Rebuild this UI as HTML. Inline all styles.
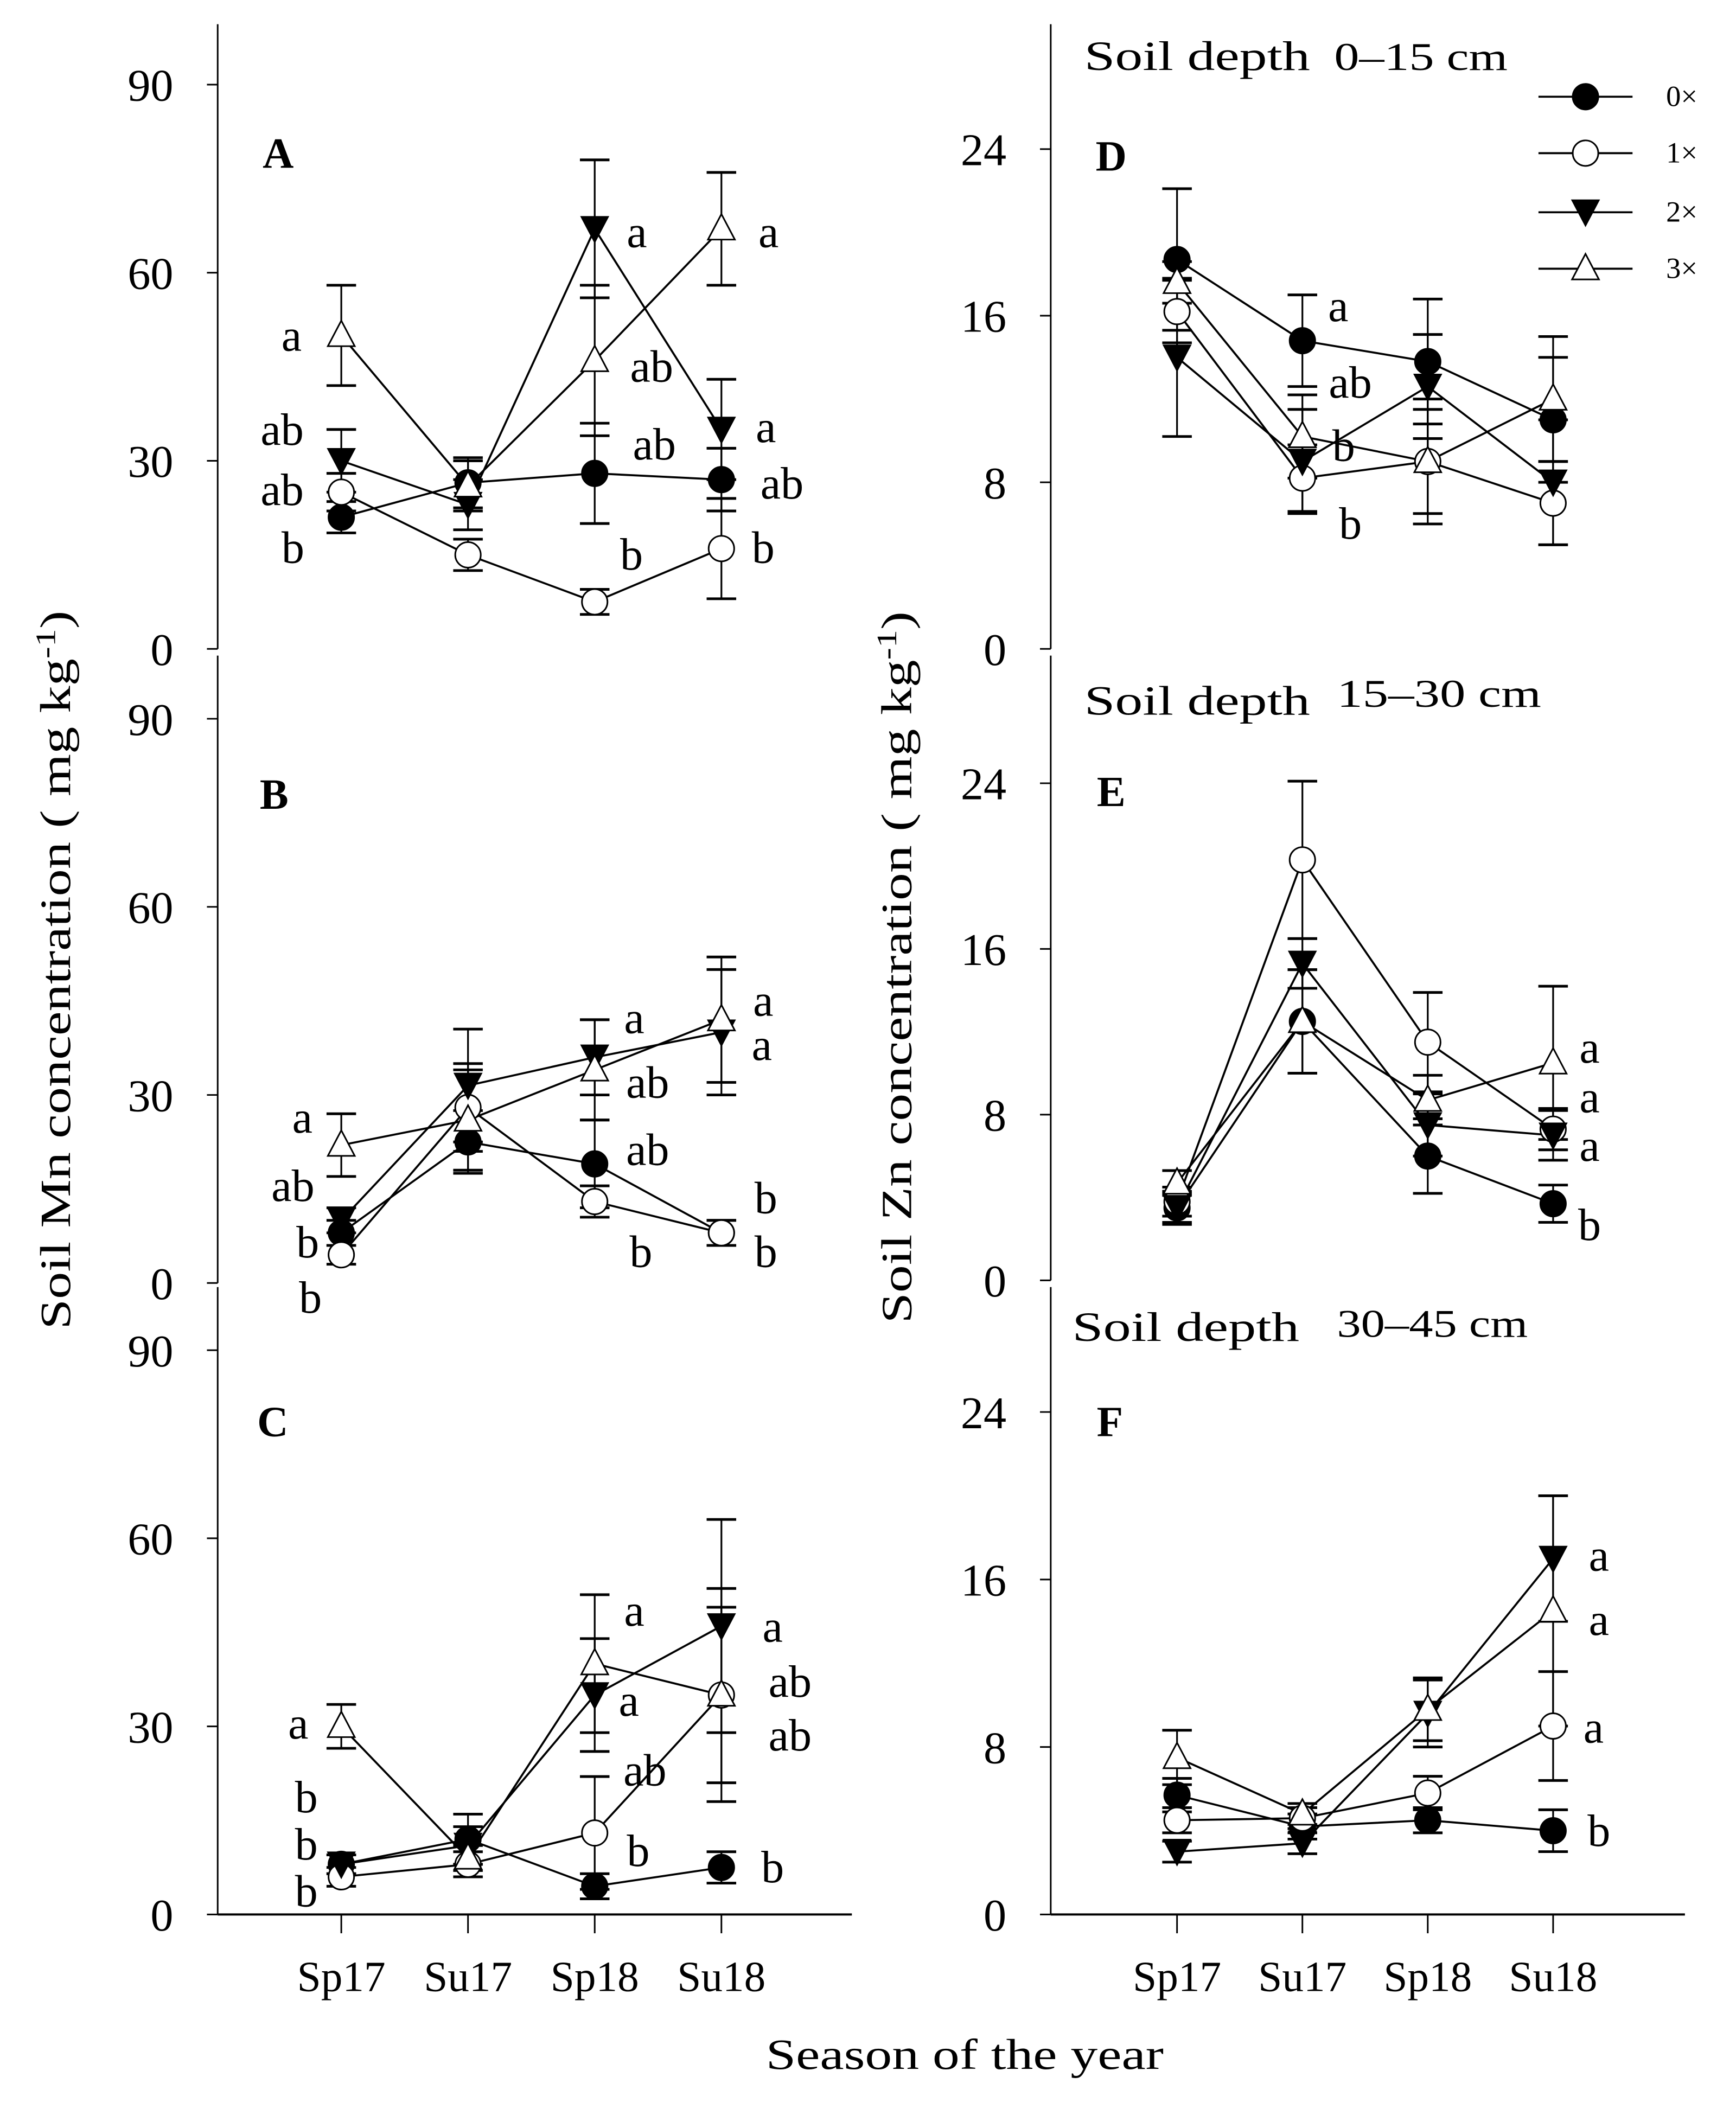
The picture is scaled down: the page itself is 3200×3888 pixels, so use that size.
<!DOCTYPE html>
<html><head><meta charset="utf-8"><style>
html,body{margin:0;padding:0;background:#fff}
svg{display:block}
text{font-family:"Liberation Serif",serif;fill:#000}
</style></head><body>
<svg id="chart" width="3200" height="3888" viewBox="0 0 1292 1569.8" xmlns="http://www.w3.org/2000/svg"></svg>
<script>
const seasons = ["Sp17","Su17","Sp18","Su18"];
const treatments = ["0×","1×","2×","3×"];
// Panel A Mn 0-15
const mnA0 = [21,26.5,28,27], mnA1 = [25,15,7.5,16], mnA2 = [30,23,67,35], mnA3 = [50,26,46,67];
const mnAe0 = [2.5,4,8,5], mnAe1 = [3,2.5,2,8], mnAe2 = [5,4,11,8], mnAe3 = [8,4,12,9];
// Panel B Mn 15-30
const mnB0 = [8,22.5,19,8], mnB1 = [4.5,28,13,8], mnB2 = [10,31.5,36,40], mnB3 = [22,26,34,42];
const mnBe0 = [2,5,7,2], mnBe1 = [1.5,7,2.5,2], mnBe2 = [2,9,6,10], mnBe3 = [5,8,8,10];
// Panel C Mn 30-45
const mnC0 = [8,12,4.5,7.5], mnC1 = [6,8,13,35], mnC2 = [8,11,35,46], mnC3 = [30,9,40,35];
const mnCe0 = [1.5,4,2,2.5], mnCe1 = [1.5,2,9,14], mnCe2 = [1.5,3,9,17], mnCe3 = [3.5,2,11,17];
// Panel D Zn 0-15
const znD0 = [18.7,14.8,13.8,11], znD1 = [16.2,8.2,9,7], znD2 = [14,9,12.6,8], znD3 = [17.6,10.2,9,12];
const znDe0 = [3.4,2.2,3,3], znDe1 = [1.5,1.6,3,2], znDe2 = [3.8,2.5,2.5,3], znDe3 = [1,2,2.5,3];
// Panel E Zn 15-30
const znE0 = [3.5,12.5,6,3.7], znE1 = [3.8,20.3,11.5,7.3], znE2 = [3.5,15.3,7.5,7], znE3 = [4.7,12.5,8.7,10.5];
const znEe0 = [0.8,2.5,1.8,0.9], znEe1 = [0.7,3.8,2.4,1], znEe2 = [0.7,1.2,1.5,1.2], znEe3 = [0.6,2.5,1.2,3.7];
// Panel F Zn 30-45
const znF0 = [5.7,4.2,4.5,4], znF1 = [4.5,4.6,5.8,9], znF2 = [3,3.4,9.6,17], znF3 = [7.5,4.8,9.8,14.5];
const znFe0 = [0.8,0.6,0.6,1], znFe1 = [0.6,0.5,0.8,2.6], znFe2 = [0.5,0.5,1.6,3], znFe3 = [1.3,0.5,1.5,5.5];
const mnTicks = [0,30,60,90];
const znTicks = [0,8,16,24];

const svg = document.getElementById('chart');
const NS = "http://www.w3.org/2000/svg";
function mk(tag, attrs, parent){const e=document.createElementNS(NS,tag);for(const k in attrs)e.setAttribute(k,attrs[k]);(parent||svg).appendChild(e);return e;}
function txt(s,x,y,size,parent,extra){const t=mk('text',Object.assign({x:x,y:y,'font-size':size},extra||{}),parent);t.textContent=s;return t;}

const panels = [
 {id:'A',ax:162,x0:254,dx:94.3,y0:483,top:18,bot:483,per:140/30,ticks:mnTicks,series:[mnA0,mnA1,mnA2,mnA3],errs:[mnAe0,mnAe1,mnAe2,mnAe3],
  letters:[["a",217,250],["ab",210,320],["ab",210,365],["b",218,408],["a",474,173],["ab",485,273],["ab",487,331],["b",470,413],["a",572,173],["a",570,318],["ab",582,360],["b",568,408]],lab:[207,113]},
 {id:'B',ax:162,x0:254,dx:94.3,y0:955,top:488,bot:955,per:140/30,ticks:mnTicks,series:[mnB0,mnB1,mnB2,mnB3],errs:[mnBe0,mnBe1,mnBe2,mnBe3],
  letters:[["a",225,832],["ab",218,883],["b",229,925],["b",231,966],["a",472,758],["ab",482,806],["ab",482,856],["b",477,932],["a",568,745],["a",567,778],["b",570,892],["b",570,932]],lab:[204,590]},
 {id:'C',ax:162,x0:254,dx:94.3,y0:1425,top:958,bot:1425,per:140/30,ticks:mnTicks,series:[mnC0,mnC1,mnC2,mnC3],errs:[mnCe0,mnCe1,mnCe2,mnCe3],xaxis:true,
  letters:[["a",222,1283],["b",228,1338],["b",228,1373],["b",228,1408],["a",472,1199],["a",468,1266],["ab",480,1318],["b",475,1378],["a",575,1211],["ab",588,1252],["ab",588,1292],["b",575,1390]],lab:[203,1057]},
 {id:'D',ax:782,x0:876,dx:93.3,y0:483,top:18,bot:483,per:372/24,ticks:znTicks,series:[znD0,znD1,znD2,znD3],errs:[znDe0,znDe1,znDe2,znDe3],
  letters:[["a",996,228],["ab",1005,285],["b",1000,332],["b",1005,390]],lab:[827,115],depth:[807,42,168,"0–15 cm",993,42,129]},
 {id:'E',ax:782,x0:876,dx:93.3,y0:953,top:488,bot:953,per:370/24,ticks:znTicks,series:[znE0,znE1,znE2,znE3],errs:[znEe0,znEe1,znEe2,znEe3],
  letters:[["a",1183,780],["a",1183,817],["a",1183,853],["b",1183,912]],lab:[827,588],depth:[807,522,168,"15–30 cm",995,516,152]},
 {id:'F',ax:782,x0:876,dx:93.3,y0:1425,top:958,bot:1425,per:374/24,ticks:znTicks,series:[znF0,znF1,znF2,znF3],errs:[znFe0,znFe1,znFe2,znFe3],xaxis:true,
  letters:[["a",1190,1158],["a",1190,1206],["a",1186,1286],["b",1190,1363]],lab:[826,1057],depth:[798,988,169,"30–45 cm",995,985,142]}
];

function marker(k,x,y,g){
  const r=9.5;
  if(k===0) return mk('circle',{cx:x,cy:y,r:r,fill:'#000',stroke:'#000','stroke-width':1.2},g);
  if(k===1) return mk('circle',{cx:x,cy:y,r:r,fill:'#fff',stroke:'#000','stroke-width':1.2},g);
  if(k===2) return mk('polygon',{points:`${x-10},${y-9} ${x+10},${y-9} ${x},${y+10}`,fill:'#000',stroke:'#000','stroke-width':1},g);
  return mk('polygon',{points:`${x-10},${y+8} ${x+10},${y+8} ${x},${y-11}`,fill:'#fff',stroke:'#000','stroke-width':1.2},g);
}

panels.forEach(p=>{
  const g=mk('g',{});
  
  
  const Y=v=>p.y0-v*p.per, X=i=>p.x0+i*p.dx;
  const ya=mk('line',{x1:p.ax,y1:p.top,x2:p.ax,y2:p.bot,stroke:'#000','stroke-width':1.2},g);
  
  
  p.ticks.forEach(t=>{
    mk('line',{x1:p.ax-8,y1:Y(t),x2:p.ax,y2:Y(t),stroke:'#000','stroke-width':1.2},g);
    const tl=txt(String(t),p.ax-33,Y(t)+12,34,g,{'text-anchor':'end'});
    
    
  });
  if(p.xaxis){
    const xa=mk('line',{x1:p.ax,y1:p.y0,x2:p.ax+472,y2:p.y0,stroke:'#000','stroke-width':1.6},g);
    
    
    seasons.forEach((s,i)=>{
      mk('line',{x1:X(i),y1:p.y0,x2:X(i),y2:p.y0+14,stroke:'#000','stroke-width':1.2},g);
      const xl=txt(s,X(i),p.y0+57,32,g,{'text-anchor':'middle'});
      
      
    });
  }
  p.series.forEach((ser,k)=>{
    ser.forEach((v,i)=>{
      const e=p.errs[k][i];
      mk('line',{x1:X(i),y1:Y(v-e),x2:X(i),y2:Y(v+e),stroke:'#000','stroke-width':1.3},g);
      [v-e,v+e].forEach(w=>mk('line',{x1:X(i)-11,y1:Y(w),x2:X(i)+11,y2:Y(w),stroke:'#000','stroke-width':2},g));
    });
  });
  p.series.forEach((ser,k)=>{
    const pl=mk('polyline',{points:ser.map((v,i)=>X(i)+','+Y(v)).join(' '),fill:'none',stroke:'#000','stroke-width':1.5},g);
    
    
  });
  p.series.forEach((ser,k)=>{
    ser.forEach((v,i)=>{
      const m=marker(k,X(i),Y(v),g);
      
      
    });
  });
  p.letters.forEach(l=>{
    const t=txt(l[0],l[1],l[2]+11,34,g,{'text-anchor':'middle'});
    
    
  });
  const pl=txt(p.id,p.lab[0],p.lab[1]+12,32,g,{'text-anchor':'middle','font-weight':'bold'});
  
  
  if(p.depth){
    const d=p.depth;
    const d1=txt('Soil depth',d[0],d[1]+10,31,g,{textLength:d[2],lengthAdjust:'spacingAndGlyphs'});
    
    
    const d2=txt(d[3],d[4],d[5]+10,29,g,{textLength:d[6],lengthAdjust:'spacingAndGlyphs'});
    
    
  }
});

const lg=mk('g',{});


[72,114,158,200].forEach((y,k)=>{
  mk('line',{x1:1145,y1:y,x2:1215,y2:y,stroke:'#000','stroke-width':1.5},lg);
  marker(k,1180,y,lg);
  const t=txt(treatments[k],1240,y+7,22,lg);
  
  
});

const t1=txt('Soil Mn concentration ( mg kg',0,0,32,svg,{'text-anchor':'middle',transform:'translate(52,722) rotate(-90)',textLength:535,lengthAdjust:'spacingAndGlyphs'});
const s1=mk('tspan',{dy:-11,'font-size':21},t1); s1.textContent='-1';
const s1b=mk('tspan',{dy:11},t1); s1b.textContent=')';


const t2=txt('Soil Zn concentration ( mg kg',0,0,32,svg,{'text-anchor':'middle',transform:'translate(678,720) rotate(-90)',textLength:530,lengthAdjust:'spacingAndGlyphs'});
const s2=mk('tspan',{dy:-11,'font-size':21},t2); s2.textContent='-1';
const s2b=mk('tspan',{dy:11},t2); s2b.textContent=')';


const t3=txt('Season of the year',570,1540,32,svg,{textLength:296,lengthAdjust:'spacingAndGlyphs'});


</script>
</body></html>
